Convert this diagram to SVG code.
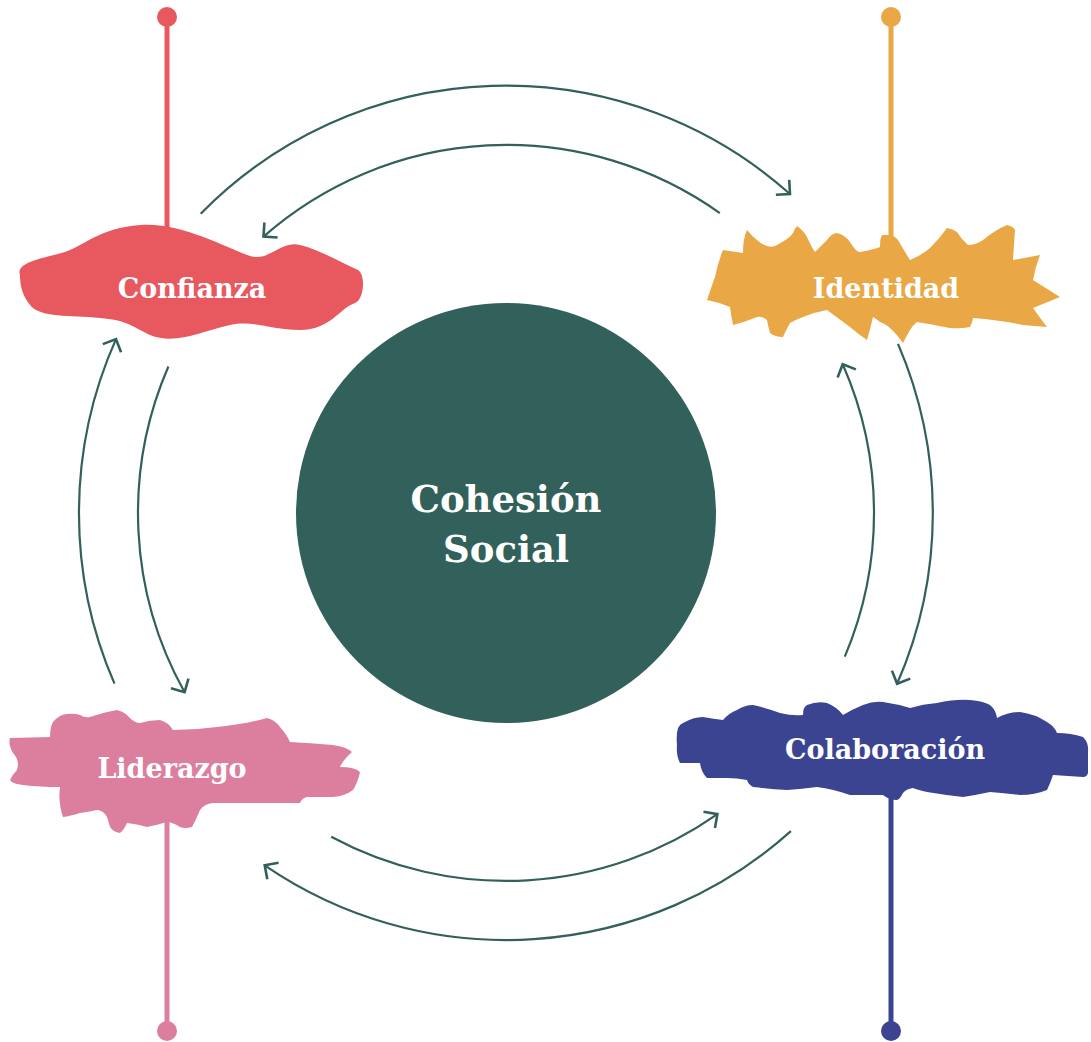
<svg xmlns="http://www.w3.org/2000/svg" width="1091" height="1042" viewBox="0 0 1091 1042">
<defs>
<style>
.arc{fill:none;stroke:#32605A;stroke-width:2.2;marker-end:url(#ah)}
.lbl{font-family:"DejaVu Serif","Liberation Serif",serif;font-weight:bold;fill:#ffffff;text-anchor:middle}
.node{font-size:27px}
.center{font-size:37px}
</style>
<marker id="ah" markerUnits="userSpaceOnUse" markerWidth="30" markerHeight="30" viewBox="-15 -15 30 30" refX="0" refY="0" orient="auto">
<path d="M -10 -10 L 0 0 L -10 10" fill="none" stroke="#32605A" stroke-width="2.6"/>
</marker>
</defs>
<rect width="1091" height="1042" fill="#ffffff"/>
<g id="connectors">
<path class="arc" d="M 200.7 213.7 A 427 427 0 0 1 790 194"/>
<path class="arc" d="M 719.8 213.1 A 368 368 0 0 0 263.5 236.6"/>
<path class="arc" d="M 898 343.9 A 427 427 0 0 1 897.1 683.8"/>
<path class="arc" d="M 844.8 656.6 A 368 368 0 0 0 842.7 364.3"/>
<path class="arc" d="M 331.2 836.8 A 368 368 0 0 0 717.4 814.1"/>
<path class="arc" d="M 790.9 831.1 A 427 427 0 0 1 264.7 865.3"/>
<path class="arc" d="M 114.5 683.6 A 427 427 0 0 1 116 339.1"/>
<path class="arc" d="M 168.4 366.5 A 368 368 0 0 0 184.6 692.2"/>
</g>
<g id="cohesion">
<circle cx="506" cy="513" r="210" fill="#32605A"/>
<text class="lbl center" x="506" y="512">Cohesión</text>
<text class="lbl center" x="506" y="562">Social</text>
</g>
<g id="confianza">
<line x1="167" y1="17" x2="167" y2="235" stroke="#E8585F" stroke-width="5"/>
<circle cx="167" cy="17" r="10" fill="#E8585F"/>
<path fill="#E8585F" d="M 20 275 C 15 262, 45 258, 65 252 C 85 245, 100 228, 140 225 C 180 222, 220 245, 250 256 C 270 262, 280 240, 300 245 C 320 250, 340 262, 358 270 C 366 275, 364 300, 355 303 C 340 308, 330 330, 300 330 C 270 330, 255 320, 230 325 C 200 332, 175 345, 150 335 C 130 325, 125 320, 100 318 C 70 315, 40 318, 30 305 C 22 295, 20 285, 20 275 Z"/>
<text class="lbl node" x="192" y="298">Confianza</text>
</g>
<g id="identidad">
<line x1="891" y1="17" x2="891" y2="245" stroke="#E9A845" stroke-width="5"/>
<circle cx="891" cy="17" r="10" fill="#E9A845"/>
<path fill="#E9A845" d="M 707 300 Q 712 285 715 277 Q 718 262 723 250 L 743 253 Q 743 238 747 230 Q 752 236 757 240 Q 768 250 777 245 Q 790 238 793 233 Q 795 228 797 226 Q 803 230 807 237 Q 812 248 815 252 Q 822 245 827 240 Q 832 233 837 233 Q 845 235 850 242 Q 856 252 860 252 Q 872 250 880 247 Q 880 238 882 235 L 890 235 Q 895 236 898 240 Q 905 252 910 260 Q 922 255 930 248 Q 940 238 947 228 Q 953 229 957 232 Q 962 240 968 245 Q 976 245 983 240 Q 995 230 1007 225 Q 1013 226 1015 230 Q 1014 245 1013 260 L 1040 255 Q 1035 268 1033 280 L 1060 297 L 1033 308 Q 1040 318 1047 327 Q 1035 326 1023 325 Q 1000 320 973 318 Q 972 324 970 327 Q 960 329 950 328 Q 930 324 917 322 Q 912 326 910 330 Q 906 337 903 343 Q 890 325 880 322 Q 875 318 873 317 Q 870 330 867 340 Q 858 334 850 327 Q 838 318 827 310 Q 815 312 803 317 Q 795 320 790 323 Q 786 330 783 337 Q 775 337 770 333 Q 768 326 767 320 Q 762 316 757 317 Q 745 322 733 325 Q 731 315 730 307 Q 718 302 707 300 Z"/>
<text class="lbl node" x="886" y="298">Identidad</text>
</g>
<g id="liderazgo">
<line x1="167" y1="815" x2="167" y2="1031" stroke="#DC7F9E" stroke-width="5"/>
<circle cx="167" cy="1031" r="10" fill="#DC7F9E"/>
<path fill="#DC7F9E" d="M 10 738 L 50 737 Q 50 727 53 722 Q 60 714 67 714 Q 75 713 80 715 Q 85 718 90 717 Q 105 712 117 710 Q 125 712 130 718 Q 135 723 140 723 Q 150 720 160 720 Q 168 722 173 730 Q 195 730 217 727 Q 245 724 267 718 Q 275 720 280 727 Q 287 735 290 742 Q 310 743 333 745 Q 347 747 352 752 Q 343 760 340 767 Q 355 767 360 772 Q 358 782 353 790 Q 345 796 333 797 L 307 797 Q 302 798 300 803 L 213 803 Q 204 804 200 810 Q 196 820 192 827 Q 185 829 180 827 Q 172 822 167 822 Q 157 825 147 827 Q 137 824 127 823 Q 124 830 120 833 Q 113 832 110 827 Q 108 820 107 817 Q 103 810 97 810 Q 88 812 80 813 Q 70 816 63 817 Q 58 803 60 787 Q 40 787 23 785 Q 12 784 10 780 Q 13 774 17 770 Q 20 760 13 753 Q 8 745 10 738 Z"/>
<text class="lbl node" x="172" y="778">Liderazgo</text>
</g>
<g id="colaboracion">
<line x1="891" y1="790" x2="891" y2="1031" stroke="#3A4491" stroke-width="5"/>
<circle cx="891" cy="1031" r="10" fill="#3A4491"/>
<path fill="#3A4491" d="M 683 723 Q 693 717 703 717 Q 714 719 723 720 Q 729 713 737 710 Q 745 705 753 705 Q 767 708 780 713 Q 792 716 803 715 Q 803 707 807 705 Q 817 701 827 703 Q 837 707 843 715 Q 853 709 863 705 Q 873 701 883 702 Q 897 704 910 708 Q 923 704 937 703 Q 955 699 970 700 Q 983 701 990 705 Q 996 710 997 718 Q 1008 712 1020 712 Q 1035 714 1047 722 Q 1055 727 1057 733 Q 1071 733 1083 737 Q 1089 743 1088 752 L 1088 773 Q 1087 777 1083 777 L 1053 775 Q 1050 784 1047 790 Q 1035 795 1020 795 Q 1005 793 990 792 Q 976 795 963 797 Q 945 795 927 792 Q 918 790 913 788 Q 906 789 903 793 Q 900 799 897 800 Q 889 800 883 795 L 850 795 Q 833 789 817 787 Q 802 789 787 790 Q 770 789 753 787 Q 748 784 747 780 Q 737 778 727 778 L 707 778 Q 701 772 700 763 L 680 763 Q 676 755 677 745 Q 676 735 678 728 Q 680 724 683 723 Z"/>
<text class="lbl node" x="885" y="759">Colaboración</text>
</g>
</svg>
